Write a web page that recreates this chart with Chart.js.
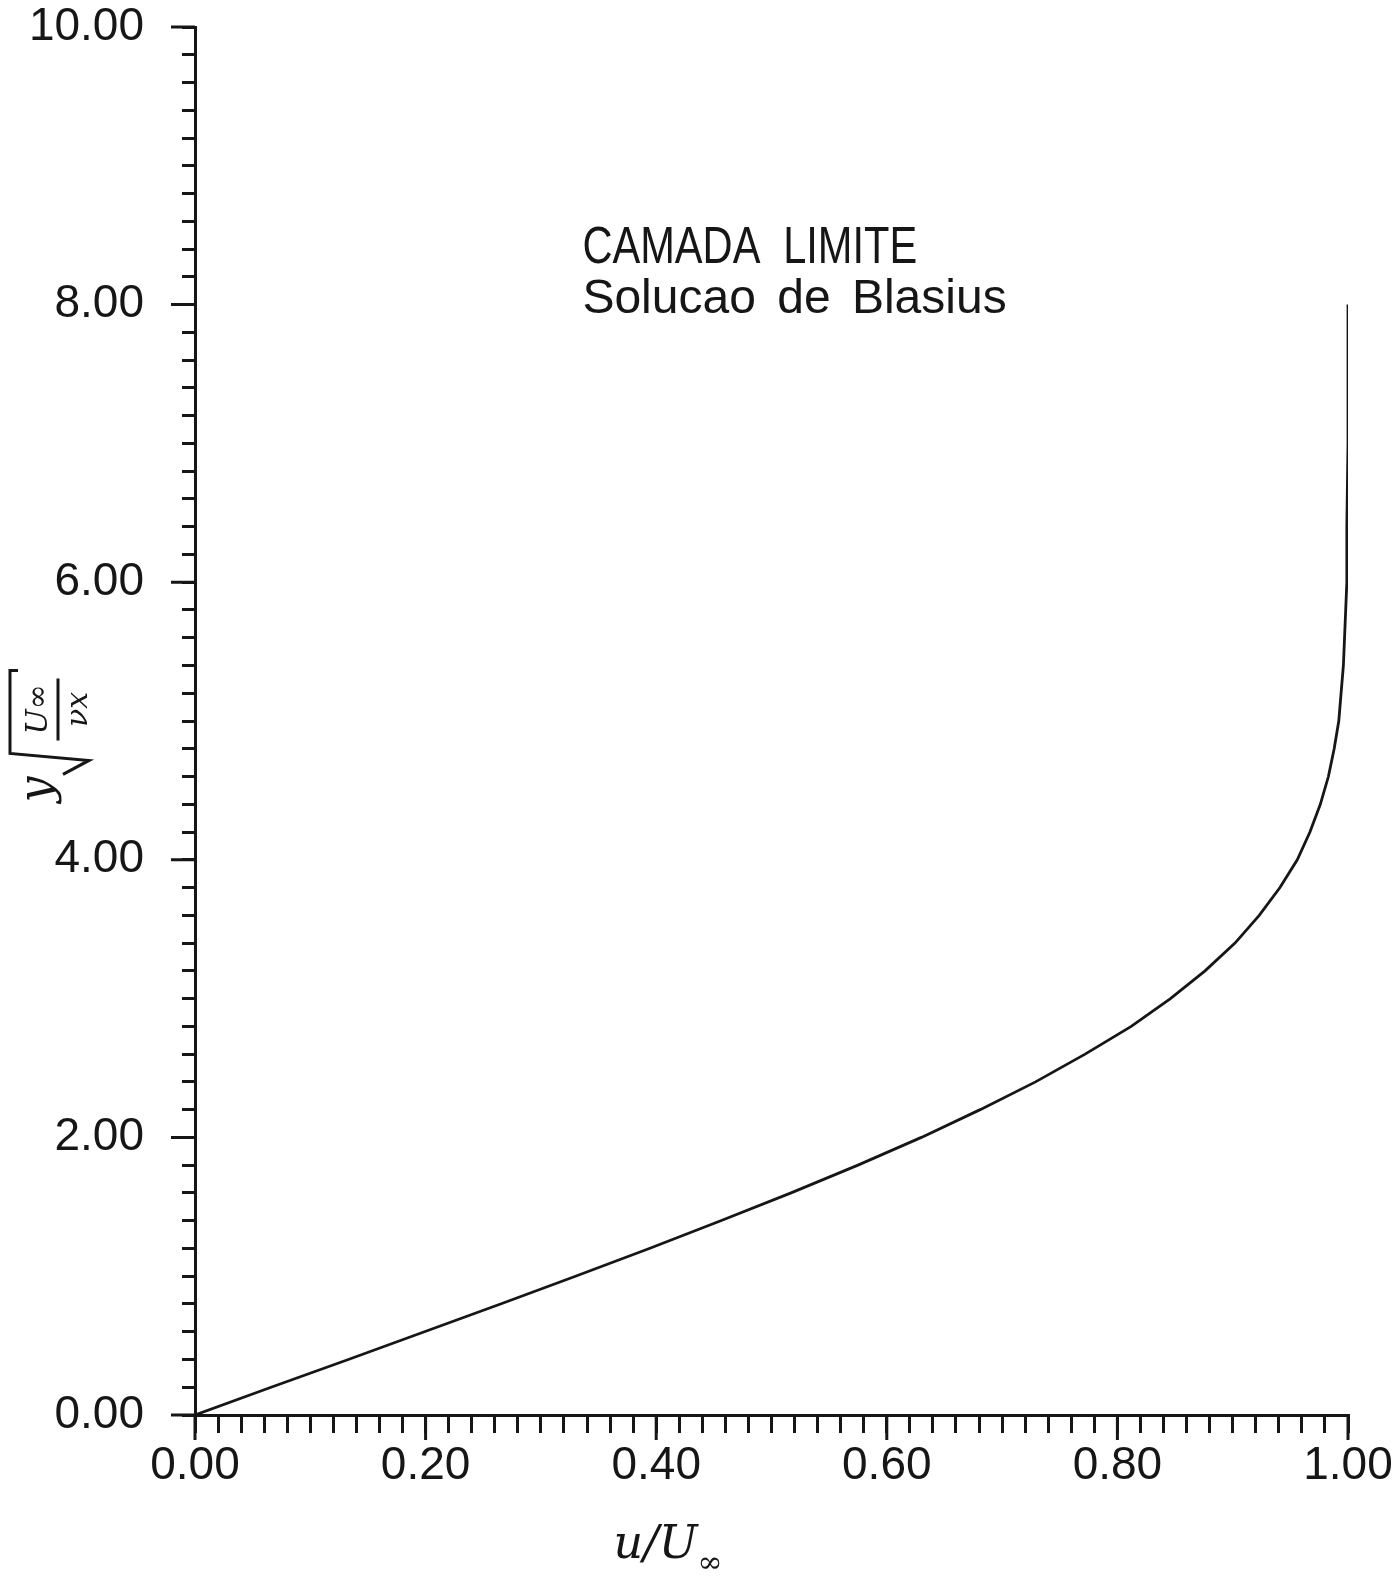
<!DOCTYPE html>
<html>
<head>
<meta charset="utf-8">
<title>Camada Limite - Solucao de Blasius</title>
<script src="https://cdn.jsdelivr.net/npm/chart.js"></script>
<style>
  body { margin: 0; background: #fff; }
</style>
</head>
<body>
<canvas id="blasius" width="1399" height="1588"></canvas>
<script>
// perfil de velocidade: eta = y*sqrt(U/(nu x)), u/U
const eta = [0, 0.2, 0.4, 0.6, 0.8, 1.0, 1.2, 1.4, 1.6, 1.8,
             2.0, 2.2, 2.4, 2.6, 2.8, 3.0, 3.2, 3.4, 3.6, 3.8,
             4.0, 4.2, 4.4, 4.6, 4.8, 5.0, 5.2, 5.4, 5.6, 5.8,
             6.0, 6.4, 7.0, 7.5, 8.0];
const uRatio = [0, 0.066, 0.133, 0.199, 0.265, 0.330, 0.394, 0.456, 0.517, 0.575,
                0.630, 0.681, 0.729, 0.772, 0.812, 0.846, 0.876, 0.902, 0.923, 0.941,
                0.956, 0.967, 0.976, 0.983, 0.988, 0.992, 0.994, 0.996, 0.997, 0.998,
                0.999, 0.999, 1.000, 1.000, 1.000];

const xMajorTicks = [0, 0.2, 0.4, 0.6, 0.8, 1.0];
const xTickLabels = ['0.00', '0.20', '0.40', '0.60', '0.80', '1.00'];
const yMajorTicks = [0, 2, 4, 6, 8, 10];
const yTickLabels = ['0.00', '2.00', '4.00', '6.00', '8.00', '10.00'];
const titleLines = ['CAMADA LIMITE', 'Solucao de Blasius'];

const INK = '#161616';

function majorLabel(v, majors, labels) {
  for (let i = 0; i < majors.length; i++) {
    if (Math.abs(v - majors[i]) < 1e-6) return labels[i];
  }
  return '';
}

// ticks maiores, textos e titulos dos eixos
const decor = {
  id: 'decor',
  afterDraw(chart) {
    const ctx = chart.ctx;
    const xs = chart.scales.x, ys = chart.scales.y;
    const area = chart.chartArea;
    ctx.save();
    ctx.strokeStyle = INK;
    ctx.fillStyle = INK;
    ctx.lineWidth = 3;
    ctx.beginPath();
    xMajorTicks.forEach(v => {
      const px = xs.getPixelForValue(v);
      ctx.moveTo(px, area.bottom);
      ctx.lineTo(px, area.bottom + 25);
    });
    yMajorTicks.forEach(v => {
      const py = ys.getPixelForValue(v);
      ctx.moveTo(area.left, py);
      ctx.lineTo(area.left - 24, py);
    });
    ctx.stroke();

    // legenda dentro do grafico
    ctx.textAlign = 'left';
    ctx.textBaseline = 'alphabetic';
    ctx.save();
    ctx.translate(xs.getPixelForValue(0.336), ys.getPixelForValue(8.30));
    ctx.scale(0.8, 1);
    ctx.font = '52px "Liberation Sans"';
    ctx.wordSpacing = '14px';
    ctx.fillText(titleLines[0], 0, 0);
    ctx.restore();
    ctx.font = '48px "Liberation Sans"';
    ctx.wordSpacing = '8px';
    ctx.fillText(titleLines[1], xs.getPixelForValue(0.336), ys.getPixelForValue(7.94));
    ctx.wordSpacing = '0px';

    // titulo eixo x: u/U∞
    const tx = xs.getPixelForValue(0.415), ty = area.bottom + 143;
    ctx.font = 'italic 46px "DejaVu Serif"';
    ctx.textAlign = 'right';
    ctx.fillText('u/U', tx + 24, ty);
    ctx.font = 'italic 30px "DejaVu Serif"';
    ctx.textAlign = 'left';
    ctx.fillText('∞', tx + 24, ty + 14);

    // titulo eixo y: y √(U∞ / νx)
    ctx.translate(area.left - 142, ys.getPixelForValue(4.86));
    ctx.rotate(-Math.PI / 2);
    ctx.font = 'italic 46px "DejaVu Serif"';
    ctx.textAlign = 'right';
    ctx.fillText('y', -36, -2);
    ctx.lineWidth = 3;
    ctx.beginPath();
    ctx.moveTo(-34, 10);
    ctx.lineTo(-20, 36);
    ctx.lineTo(-13, -43);
    ctx.lineTo(70, -43);
    ctx.lineTo(70, -35);
    ctx.moveTo(0, 5);
    ctx.lineTo(62, 5);
    ctx.stroke();
    ctx.textAlign = 'center';
    ctx.font = 'italic 30px "DejaVu Serif"';
    ctx.fillText('U∞', 31, -6);
    ctx.fillText('νx', 31, 34);
    ctx.restore();
  }
};

const data = {
  datasets: [{
    data: eta.map((e, i) => ({ x: uRatio[i], y: e })),
    borderColor: INK,
    borderWidth: 2.8,
    pointRadius: 0,
    tension: 0,
    fill: false
  }]
};

const tickFont = { family: '"Liberation Sans"', size: 46 };

const config = {
  type: 'line',
  data: data,
  options: {
    responsive: false,
    animation: false,
    events: [],
    layout: { padding: { left: 0, top: 27, right: 51, bottom: 0 } },
    plugins: { legend: { display: false }, tooltip: { enabled: false } },
    scales: {
      x: {
        type: 'linear',
        min: 0, max: 1,
        border: { color: INK, width: 3 },
        grid: { drawOnChartArea: false, drawTicks: true, tickLength: 18, lineWidth: 3, tickWidth: 3, tickColor: INK },
        ticks: {
          stepSize: 0.02, autoSkip: false, maxRotation: 0, minRotation: 0,
          padding: 6, color: INK, font: tickFont,
          callback: v => majorLabel(v, xMajorTicks, xTickLabels)
        },
        afterFit(scale) {
          scale.height = 173;
          scale.paddingLeft = 0;
          scale.paddingRight = 0;
        }
      },
      y: {
        type: 'linear',
        min: 0, max: 10,
        border: { color: INK, width: 3 },
        grid: { drawOnChartArea: false, drawTicks: true, tickLength: 13, lineWidth: 3, tickWidth: 3, tickColor: INK },
        ticks: {
          stepSize: 0.2, autoSkip: false,
          padding: 38, color: INK, font: tickFont,
          callback: v => majorLabel(v, yMajorTicks, yTickLabels)
        },
        afterFit(scale) {
          scale.width = 195;
          scale.paddingTop = 0;
          scale.paddingBottom = 0;
        }
      }
    }
  },
  plugins: [decor]
};

const myChart = new Chart(document.getElementById('blasius'), config);
</script>
</body>
</html>
